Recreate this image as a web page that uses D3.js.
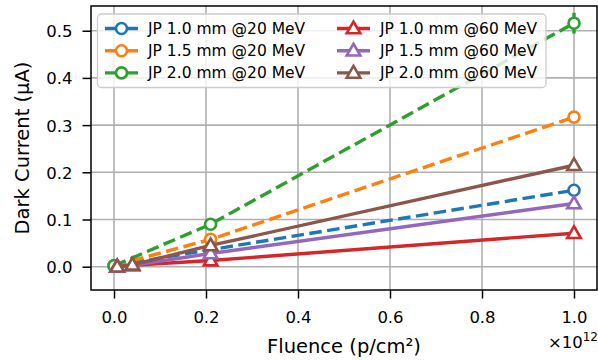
<!DOCTYPE html>
<html><head><meta charset="utf-8">
<script src="https://cdn.jsdelivr.net/npm/d3@7"></script>
<style>body{margin:0;background:#fff}svg{display:block}text{font-family:"DejaVu Sans",sans-serif}</style>
</head><body>
<svg id="c" width="598" height="360"></svg>
<script>
const x20 = [0, 0.21, 1.0];
const x60 = [0.007, 0.04, 0.21, 1.0];
const jp10_20 = [0.002, 0.036, 0.162];
const jp15_20 = [0.002, 0.058, 0.317];
const jp20_20 = [0.002, 0.090, 0.516];
const err10_20 = [0.003, 0.005, 0.008];
const err15_20 = [0.003, 0.008, 0.010];
const err20_20 = [0.003, 0.010, 0.022];
const jp10_60 = [0.0, 0.003, 0.013, 0.071];
const jp15_60 = [0.0, 0.003, 0.028, 0.134];
const jp20_60 = [0.0, 0.004, 0.045, 0.215];
const labels = ["JP 1.0 mm @20 MeV","JP 1.5 mm @20 MeV","JP 2.0 mm @20 MeV","JP 1.0 mm @60 MeV","JP 1.5 mm @60 MeV","JP 2.0 mm @60 MeV"];
const colors = ["#1f77b4","#ff7f0e","#2ca02c","#d62728","#9467bd","#8c564b"];
const xTicks = [0, 0.2, 0.4, 0.6, 0.8, 1.0];
const yTicks = [0, 0.1, 0.2, 0.3, 0.4, 0.5];

const series = [
  {x:x20, y:jp10_20, e:err10_20, dash:true, m:"o"},
  {x:x20, y:jp15_20, e:err15_20, dash:true, m:"o"},
  {x:x20, y:jp20_20, e:err20_20, dash:true, m:"o"},
  {x:x60, y:jp10_60, e:null, dash:false, m:"^"},
  {x:x60, y:jp15_60, e:null, dash:false, m:"^"},
  {x:x60, y:jp20_60, e:null, dash:false, m:"^"}
];

const L=91, R=597, T=6, B=290;
const svg = d3.select("#c");
const xs = d3.scaleLinear().domain([-0.05,1.05]).range([L,R]);
const ys = d3.scaleLinear().domain([-0.0494,0.5524]).range([B,T]);

// grid
const g = svg.append("g");
g.selectAll("line.gx").data(xTicks).join("line")
  .attr("x1",d=>xs(d)).attr("x2",d=>xs(d)).attr("y1",T).attr("y2",B)
  .attr("stroke","#b0b0b0").attr("stroke-width",1.6);
g.selectAll("line.gy").data(yTicks).join("line")
  .attr("y1",d=>ys(d)).attr("y2",d=>ys(d)).attr("x1",L).attr("x2",R)
  .attr("stroke","#b0b0b0").attr("stroke-width",1.6);

const tri = d3.symbol().type(d3.symbolTriangle).size(80);
function marker(sel, m, color){
  if(m==="o"){
    sel.append("circle").attr("r",5.5).attr("fill","#fff").attr("stroke",color).attr("stroke-width",2.6);
  } else {
    sel.append("path").attr("d",tri).attr("transform","translate(0,0.9)").attr("fill","#fff").attr("stroke",color).attr("stroke-width",2.6).attr("stroke-linejoin","miter");
  }
}

const plot = svg.append("g");
const line = d3.line();
series.forEach((s,i)=>{
  const pts = s.x.map((xv,j)=>[xs(xv), ys(s.y[j])]);
  const sg = plot.append("g");
  if(s.e){
    s.x.forEach((xv,j)=>{
      sg.append("line").attr("x1",xs(xv)).attr("x2",xs(xv))
        .attr("y1",ys(s.y[j]-s.e[j])).attr("y2",ys(s.y[j]+s.e[j]))
        .attr("stroke",colors[i]).attr("stroke-width",3.4);
    });
  }
  sg.append("path").attr("d",line(pts)).attr("fill","none").attr("stroke",colors[i])
    .attr("stroke-width",3.4).attr("stroke-dasharray",s.dash?"12.5,5.5":null);
  pts.forEach(p=>{
    const mg = sg.append("g").attr("transform",`translate(${p[0]},${p[1]})`);
    marker(mg, s.m, colors[i]);
  });
});

// spines
svg.append("rect").attr("x",L).attr("y",T).attr("width",R-L).attr("height",B-T)
  .attr("fill","none").attr("stroke","#000").attr("stroke-width",1.5);

// axes
const ax = svg.append("g").attr("transform",`translate(0,${B})`)
  .call(d3.axisBottom(xs).tickValues(xTicks).tickFormat(d3.format(".1f")).tickSize(8.5).tickSizeOuter(0));
ax.select(".domain").remove();
ax.selectAll(".tick line").attr("stroke","#000").attr("stroke-width",1.5);
ax.selectAll(".tick text").attr("y",33).attr("dy",0).attr("font-size",16.5).attr("fill","#000").attr("font-family","DejaVu Sans");

const ay = svg.append("g").attr("transform",`translate(${L},0)`)
  .call(d3.axisLeft(ys).tickValues(yTicks).tickFormat(d3.format(".1f")).tickSize(8.5).tickSizeOuter(0));
ay.select(".domain").remove();
ay.selectAll(".tick line").attr("stroke","#000").attr("stroke-width",1.5);
ay.selectAll(".tick text").attr("x",-18.5).attr("dy","0.36em").attr("font-size",16.5).attr("fill","#000").attr("font-family","DejaVu Sans");

// axis labels
svg.append("text").attr("x",(L+R)/2).attr("y",353).attr("text-anchor","middle")
  .attr("font-size",19.5).text("Fluence (p/cm²)");
svg.append("text").attr("transform",`translate(29,${(T+B)/2}) rotate(-90)`).attr("text-anchor","middle")
  .attr("font-size",19.5).text("Dark Current (µA)");
const off = svg.append("text").attr("x",598).attr("y",348).attr("text-anchor","end").attr("font-size",16.5);
off.append("tspan").text("×10");
off.append("tspan").attr("dy",-7).attr("font-size",12).text("12");

// legend
const lg = svg.append("g");
lg.append("rect").attr("x",97.5).attr("y",14).attr("width",448.5).attr("height",73.5).attr("rx",4)
  .attr("fill","#fff").attr("fill-opacity",0.8).attr("stroke","#cccccc").attr("stroke-width",1.3);
const colX = [105, 337];
const rowY = [28.5, 50.7, 72.9];
series.forEach((s,i)=>{
  const cx = colX[Math.floor(i/3)], cy = rowY[i%3];
  lg.append("line").attr("x1",cx).attr("x2",cx+33).attr("y1",cy).attr("y2",cy)
    .attr("stroke",colors[i]).attr("stroke-width",3.4);
  const mg = lg.append("g").attr("transform",`translate(${cx+16.5},${cy})`);
  marker(mg, s.m, colors[i]);
  lg.append("text").attr("x",cx+43).attr("y",cy).attr("dy","0.36em").attr("font-size",15.5).text(labels[i]);
});
</script>
</body></html>
